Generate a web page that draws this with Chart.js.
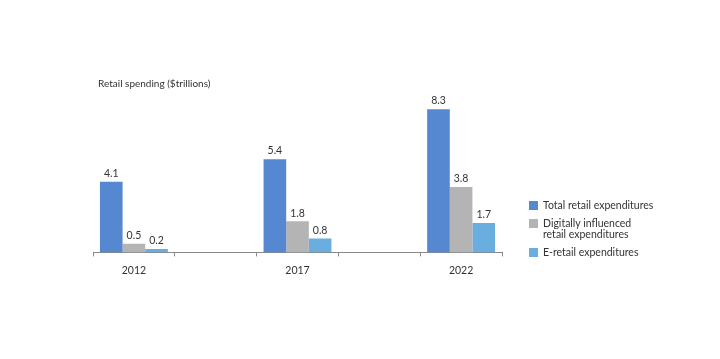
<!DOCTYPE html>
<html>
<head>
<meta charset="utf-8">
<script src="https://cdn.jsdelivr.net/npm/chart.js@4.4.0/dist/chart.umd.min.js"></script>
<style>
  html, body { margin: 0; padding: 0; background: #fff; }
  #wrap { position: relative; width: 720px; height: 359px; }
  #legend { position: absolute; left: 529px; top: 200px; font-family: Lato, "Open Sans", sans-serif; font-size: 10.5px; color: #333; }
  .item { position: relative; padding-left: 14px; line-height: 11px; margin-bottom: 7px; }
  .swatch { position: absolute; left: 0; top: 1px; width: 9px; height: 9px; }
</style>
</head>
<body>
<div id="wrap">
  <canvas id="chart" width="720" height="359"></canvas>
  <div id="legend"></div>
</div>
<script>
// Chart data
const years = ['2012', '', '2017', '', '2022'];
const totalRetail = [4.1, null, 5.4, null, 8.3];
const digitallyInfluenced = [0.5, null, 1.8, null, 3.8];
const eRetail = [0.2, null, 0.8, null, 1.7];
const seriesNames = ['Total retail expenditures', 'Digitally influenced retail expenditures', 'E-retail expenditures'];
const seriesColors = ['#5588d0', '#b4b4b4', '#6aaddf'];
const yTitle = 'Retail spending ($trillions)';

const FONT = 'Lato, "Open Sans", sans-serif';

// draws the value above each bar and the title at top left
const labelsPlugin = {
  id: 'labels',
  afterDatasetsDraw(chart) {
    const ctx = chart.ctx;
    ctx.save();
    ctx.font = '10.5px ' + FONT;
    ctx.fillStyle = '#333';
    ctx.textAlign = 'center';
    ctx.textBaseline = 'bottom';
    chart.data.datasets.forEach((ds, i) => {
      chart.getDatasetMeta(i).data.forEach((bar, j) => {
        if (ds.data[j] == null) return;
        ctx.fillText(ds.data[j].toFixed(1), bar.x, bar.y - 3);
      });
    });
    ctx.font = '10px ' + FONT;
    ctx.textAlign = 'left';
    ctx.textBaseline = 'middle';
    ctx.fillText(yTitle, 98, 84);
    ctx.restore();
  }
};

new Chart(document.getElementById('chart'), {
  type: 'bar',
  data: {
    labels: years,
    datasets: [totalRetail, digitallyInfluenced, eRetail].map((d, i) => ({
      label: seriesNames[i],
      data: d,
      backgroundColor: seriesColors[i],
      barPercentage: 1,
      categoryPercentage: 0.83
    }))
  },
  options: {
    responsive: false,
    animation: false,
    layout: { padding: { left: 93, right: 218, top: 80, bottom: 74 } },
    plugins: {
      legend: { display: false },
      tooltip: { enabled: false }
    },
    scales: {
      x: {
        grid: { drawOnChartArea: false, drawTicks: true, tickLength: 4, color: '#888' },
        border: { color: '#888' },
        ticks: { color: '#333', font: { family: FONT, size: 10.5 }, padding: 8 }
      },
      y: { display: false, min: 0, max: 10 }
    }
  },
  plugins: [labelsPlugin]
});

// HTML legend so the long label can wrap onto two lines
const legendEl = document.getElementById('legend');
legendEl.innerHTML = seriesNames.map((name, i) => {
  const text = i === 1 ? 'Digitally influenced<br>retail expenditures' : name;
  return `<div class="item"><span class="swatch" style="background:${seriesColors[i]}"></span>${text}</div>`;
}).join('');
</script>
</body>
</html>
